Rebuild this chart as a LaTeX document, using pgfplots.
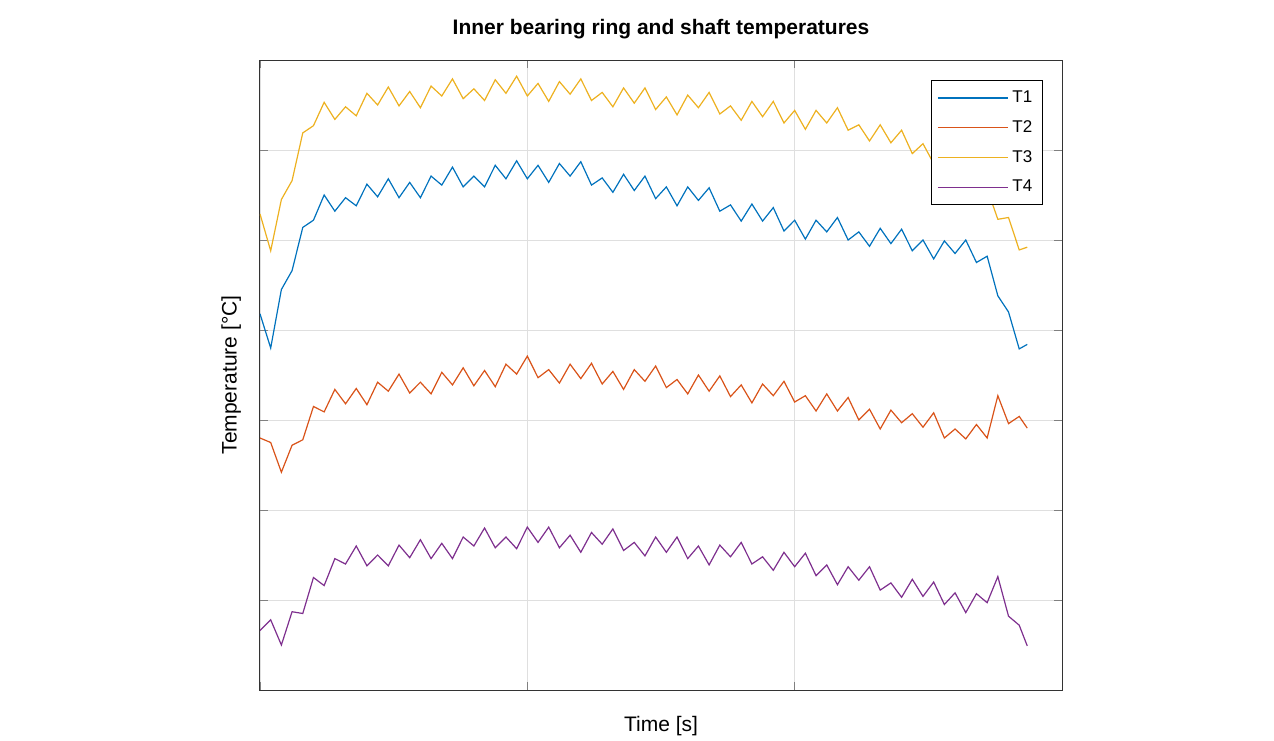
\documentclass[border=0pt]{standalone}
\usepackage{pgfplots}
\pgfplotsset{compat=1.18}
\usepackage{fontspec}
\setmainfont{Liberation Sans}
\definecolor{c1}{RGB}{0,114,189}
\definecolor{c2}{RGB}{217,83,25}
\definecolor{c3}{RGB}{237,177,32}
\definecolor{c4}{RGB}{126,47,142}
\begin{document}
\begin{tikzpicture}
\useasboundingbox (-130pt,-25pt) rectangle (507pt,345pt);
\begin{axis}[at={(0,0)},anchor=south west,scale only axis,width=401pt,height=315pt,
 xmin=0,xmax=3,ymin=0,ymax=7,xtick={0,1,2,3},ytick={0,...,7},
 xticklabels={},yticklabels={},tick align=inside,major tick length=4pt,
 grid=major,grid style={gray!25,line width=0.4pt},axis line style={line width=0.5pt,black!80},
 title={\bfseries Inner bearing ring and shaft temperatures},
 title style={font=\fontsize{10.5pt}{12pt}\selectfont,at={(0.5,1)},anchor=south,yshift=1pt},
 xlabel={Time [s]},ylabel={Temperature [°C]},
 label style={font=\fontsize{10.5pt}{12pt}\selectfont},
 xlabel style={at={(axis description cs:0.5,-0.03)},anchor=north},
 ylabel style={at={(axis description cs:-0.015,0.5)},anchor=south},
 legend style={at={(0.976,0.968)},anchor=north east,font=\fontsize{8.5pt}{10pt}\selectfont,draw=black,line width=0.5pt,row sep=3.5pt,inner ysep=3pt},
 legend cell align=left,
 legend image code/.code={\draw[#1] plot coordinates {(0pt,0pt) (35pt,0pt)};},
 every axis plot/.append style={line width=0.6pt}]
\addplot[c1] coordinates {(0.00,4.18)(0.04,3.80)(0.08,4.45)(0.12,4.66)(0.16,5.14)(0.20,5.22)(0.24,5.50)(0.28,5.32)(0.32,5.47)(0.36,5.38)(0.40,5.62)(0.44,5.48)(0.48,5.68)(0.52,5.47)(0.56,5.64)(0.60,5.47)(0.64,5.71)(0.68,5.61)(0.72,5.81)(0.76,5.59)(0.80,5.71)(0.84,5.59)(0.88,5.83)(0.92,5.68)(0.96,5.88)(1.00,5.68)(1.04,5.83)(1.08,5.64)(1.12,5.85)(1.16,5.71)(1.20,5.87)(1.24,5.61)(1.28,5.69)(1.32,5.53)(1.36,5.73)(1.40,5.55)(1.44,5.71)(1.48,5.46)(1.52,5.59)(1.56,5.38)(1.60,5.59)(1.64,5.44)(1.68,5.58)(1.72,5.32)(1.76,5.39)(1.80,5.21)(1.84,5.40)(1.88,5.21)(1.92,5.36)(1.96,5.10)(2.00,5.22)(2.04,5.01)(2.08,5.22)(2.12,5.09)(2.16,5.25)(2.20,5.00)(2.24,5.09)(2.28,4.93)(2.32,5.13)(2.36,4.96)(2.40,5.12)(2.44,4.88)(2.48,5.00)(2.52,4.79)(2.56,4.99)(2.60,4.85)(2.64,5.00)(2.68,4.75)(2.72,4.82)(2.76,4.38)(2.80,4.20)(2.84,3.79)(2.87,3.84)};
\addlegendentry{T1}
\addplot[c2] coordinates {(0.00,2.80)(0.04,2.75)(0.08,2.42)(0.12,2.72)(0.16,2.78)(0.20,3.15)(0.24,3.09)(0.28,3.34)(0.32,3.18)(0.36,3.35)(0.40,3.17)(0.44,3.42)(0.48,3.32)(0.52,3.51)(0.56,3.30)(0.60,3.42)(0.64,3.29)(0.68,3.53)(0.72,3.39)(0.76,3.58)(0.80,3.38)(0.84,3.55)(0.88,3.37)(0.92,3.62)(0.96,3.51)(1.00,3.71)(1.04,3.47)(1.08,3.56)(1.12,3.41)(1.16,3.62)(1.20,3.46)(1.24,3.63)(1.28,3.40)(1.32,3.54)(1.36,3.34)(1.40,3.56)(1.44,3.43)(1.48,3.60)(1.52,3.36)(1.56,3.45)(1.60,3.29)(1.64,3.50)(1.68,3.32)(1.72,3.49)(1.76,3.26)(1.80,3.39)(1.84,3.19)(1.88,3.40)(1.92,3.27)(1.96,3.43)(2.00,3.20)(2.04,3.27)(2.08,3.10)(2.12,3.29)(2.16,3.10)(2.20,3.25)(2.24,3.00)(2.28,3.12)(2.32,2.90)(2.36,3.11)(2.40,2.97)(2.44,3.07)(2.48,2.92)(2.52,3.08)(2.56,2.80)(2.60,2.90)(2.64,2.79)(2.68,2.95)(2.72,2.80)(2.76,3.27)(2.80,2.96)(2.84,3.04)(2.87,2.91)};
\addlegendentry{T2}
\addplot[c3] coordinates {(0.00,5.29)(0.04,4.88)(0.08,5.45)(0.12,5.66)(0.16,6.19)(0.20,6.27)(0.24,6.53)(0.28,6.34)(0.32,6.48)(0.36,6.38)(0.40,6.63)(0.44,6.50)(0.48,6.70)(0.52,6.49)(0.56,6.65)(0.60,6.47)(0.64,6.71)(0.68,6.60)(0.72,6.79)(0.76,6.57)(0.80,6.68)(0.84,6.55)(0.88,6.78)(0.92,6.63)(0.96,6.82)(1.00,6.60)(1.04,6.74)(1.08,6.54)(1.12,6.76)(1.16,6.62)(1.20,6.79)(1.24,6.55)(1.28,6.64)(1.32,6.48)(1.36,6.69)(1.40,6.52)(1.44,6.69)(1.48,6.45)(1.52,6.59)(1.56,6.39)(1.60,6.61)(1.64,6.47)(1.68,6.64)(1.72,6.40)(1.76,6.49)(1.80,6.33)(1.84,6.54)(1.88,6.37)(1.92,6.54)(1.96,6.30)(2.00,6.44)(2.04,6.23)(2.08,6.44)(2.12,6.30)(2.16,6.47)(2.20,6.22)(2.24,6.28)(2.28,6.10)(2.32,6.28)(2.36,6.08)(2.40,6.22)(2.44,5.96)(2.48,6.07)(2.52,5.85)(2.56,6.05)(2.60,5.90)(2.64,6.05)(2.68,5.67)(2.72,5.57)(2.76,5.23)(2.80,5.25)(2.84,4.89)(2.87,4.92)};
\addlegendentry{T3}
\addplot[c4] coordinates {(0.00,0.66)(0.04,0.78)(0.08,0.50)(0.12,0.87)(0.16,0.85)(0.20,1.25)(0.24,1.16)(0.28,1.46)(0.32,1.40)(0.36,1.60)(0.40,1.38)(0.44,1.50)(0.48,1.38)(0.52,1.61)(0.56,1.47)(0.60,1.67)(0.64,1.46)(0.68,1.63)(0.72,1.46)(0.76,1.70)(0.80,1.60)(0.84,1.80)(0.88,1.58)(0.92,1.70)(0.96,1.57)(1.00,1.81)(1.04,1.64)(1.08,1.81)(1.12,1.58)(1.16,1.72)(1.20,1.53)(1.24,1.75)(1.28,1.62)(1.32,1.79)(1.36,1.55)(1.40,1.64)(1.44,1.49)(1.48,1.70)(1.52,1.53)(1.56,1.70)(1.60,1.46)(1.64,1.60)(1.68,1.39)(1.72,1.61)(1.76,1.48)(1.80,1.64)(1.84,1.40)(1.88,1.48)(1.92,1.33)(1.96,1.53)(2.00,1.37)(2.04,1.52)(2.08,1.27)(2.12,1.39)(2.16,1.17)(2.20,1.37)(2.24,1.22)(2.28,1.37)(2.32,1.11)(2.36,1.19)(2.40,1.03)(2.44,1.23)(2.48,1.04)(2.52,1.20)(2.56,0.95)(2.60,1.08)(2.64,0.86)(2.68,1.07)(2.72,0.97)(2.76,1.26)(2.80,0.82)(2.84,0.72)(2.87,0.49)};
\addlegendentry{T4}
\end{axis}
\end{tikzpicture}
\end{document}
